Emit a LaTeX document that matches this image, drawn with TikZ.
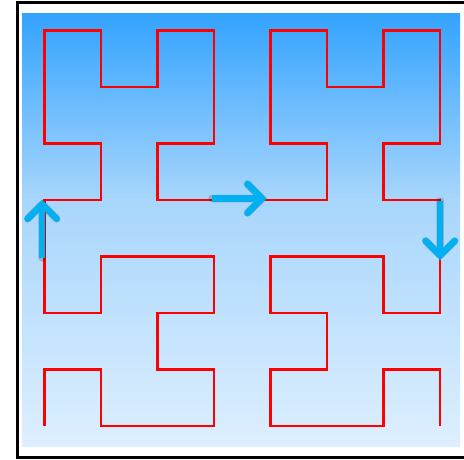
\documentclass[tikz,border=0pt]{standalone}
\usetikzlibrary{calc}
\definecolor{bgtop}{RGB}{51,163,255}
\definecolor{bgmid}{RGB}{168,214,252}
\definecolor{bgbot}{RGB}{222,239,255}
\definecolor{arrowblue}{RGB}{0,176,240}
\pgfdeclareverticalshading{bggrad}{100bp}{color(0bp)=(bgbot); color(25bp)=(bgbot); color(53.5bp)=(bgmid); color(75bp)=(bgtop); color(100bp)=(bgtop)}
\tikzset{
  frame/.style={draw=black, line width=3pt},
  curve/.style={draw=red, line width=2.4pt, line join=miter},
  shaftline/.style={draw=arrowblue, line width=6.5pt, line cap=butt},
  headline/.style={draw=arrowblue, line width=6.5pt, line cap=round, line join=miter},
  shadowline/.style={draw=black, opacity=0.18, line width=7.5pt, line cap=round, line join=round},
}
\begin{document}
\begin{tikzpicture}[x=1pt, y=-1pt]
\useasboundingbox (0,0) rectangle (464,459);
\clip (0,0) rectangle (464,459);
\fill[white] (0,0) rectangle (464,459);
% background gradient
\shade[shading=bggrad] (22,13) rectangle (460,446.7);
% frame
\draw[frame] (17.5,2.5) rectangle (467,457.5);
% Hilbert curve
\begin{scope}[shift={(44.3,30.5)}, x=56.5pt, y=-56.5pt]
\draw[curve] (0,7)--(0,6)--(1,6)--(1,7)--(3,7)--(3,6)--(2,6)--(2,5)--(3,5)--(3,4)--(1,4)--(1,5)--(0,5)--(0,4)--(0,3)--(1,3)--(1,2)--(0,2)--(0,0)--(1,0)--(1,1)--(2,1)--(2,0)--(3,0)--(3,2)--(2,2)--(2,3)--(3,3)--(4,3)--(5,3)--(5,2)--(4,2)--(4,0)--(5,0)--(5,1)--(6,1)--(6,0)--(7,0)--(7,2)--(6,2)--(6,3)--(7,3)--(7,4)--(7,5)--(6,5)--(6,4)--(4,4)--(4,5)--(5,5)--(5,6)--(4,6)--(4,7)--(6,7)--(6,6)--(7,6)--(7,7);
\end{scope}
% arrow coordinates
\coordinate (upS) at (42.2,258);
\coordinate (upT) at (42.2,204.3);
\coordinate (upL) at (27.7,218.8);
\coordinate (upR) at (56.7,218.8);
\coordinate (rtS) at (212,198.5);
\coordinate (rtT) at (262,198.5);
\coordinate (rtU) at (247.5,184);
\coordinate (rtD) at (247.5,213);
\coordinate (dnS) at (440.2,201);
\coordinate (dnT) at (440.2,255.4);
\coordinate (dnL) at (425.7,240.9);
\coordinate (dnR) at (454.7,240.9);
% shadows
\begin{scope}[shift={(2.2,3)}]
\draw[shadowline] (upS) -- (upT) (upL) -- (upT) -- (upR);
\draw[shadowline] (rtS) -- (rtT) (rtU) -- (rtT) -- (rtD);
\draw[shadowline] (dnS) -- (dnT) (dnL) -- (dnT) -- (dnR);
\end{scope}
% arrows
\draw[shaftline] (upS) -- (upT);
\draw[headline] (upL) -- (upT) -- (upR);
\draw[shaftline] (rtS) -- (rtT);
\draw[headline] (rtU) -- (rtT) -- (rtD);
\draw[shaftline] (dnS) -- (dnT);
\draw[headline] (dnL) -- (dnT) -- (dnR);
\end{tikzpicture}
\end{document}
